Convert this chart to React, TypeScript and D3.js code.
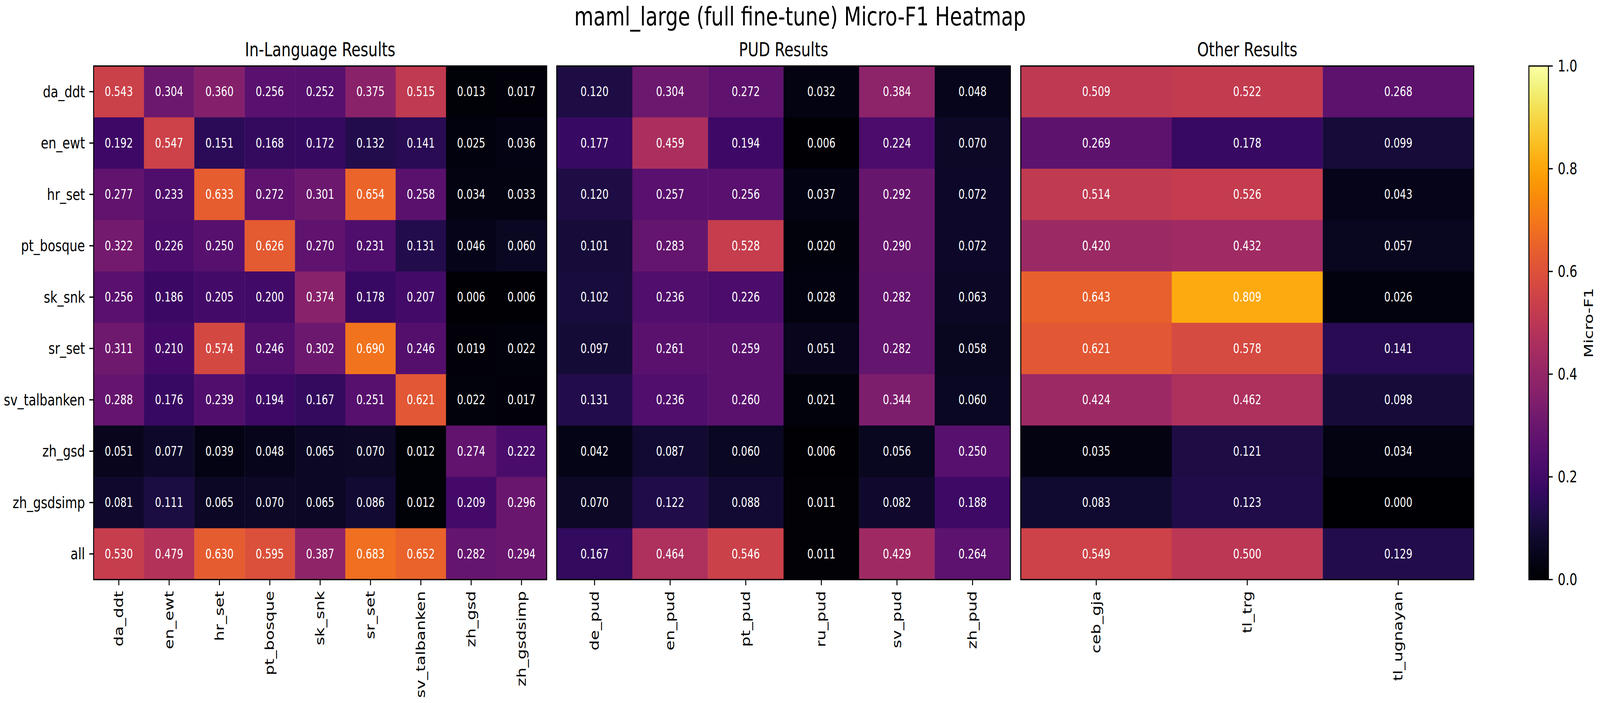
import * as d3 from 'd3';
import React from 'react';

// rows shared by all three panels
const rowLabels = [
  'da_ddt',
  'en_ewt',
  'hr_set',
  'pt_bosque',
  'sk_snk',
  'sr_set',
  'sv_talbanken',
  'zh_gsd',
  'zh_gsdsimp',
  'all'
];

const inLangCols = [
  'da_ddt',
  'en_ewt',
  'hr_set',
  'pt_bosque',
  'sk_snk',
  'sr_set',
  'sv_talbanken',
  'zh_gsd',
  'zh_gsdsimp'
];
const inLangValues = [
  [0.543, 0.304, 0.36, 0.256, 0.252, 0.375, 0.515, 0.013, 0.017],
  [0.192, 0.547, 0.151, 0.168, 0.172, 0.132, 0.141, 0.025, 0.036],
  [0.277, 0.233, 0.633, 0.272, 0.301, 0.654, 0.258, 0.034, 0.033],
  [0.322, 0.226, 0.25, 0.626, 0.27, 0.231, 0.131, 0.046, 0.06],
  [0.256, 0.186, 0.205, 0.2, 0.374, 0.178, 0.207, 0.006, 0.006],
  [0.311, 0.21, 0.574, 0.246, 0.302, 0.69, 0.246, 0.019, 0.022],
  [0.288, 0.176, 0.239, 0.194, 0.167, 0.251, 0.621, 0.022, 0.017],
  [0.051, 0.077, 0.039, 0.048, 0.065, 0.07, 0.012, 0.274, 0.222],
  [0.081, 0.111, 0.065, 0.07, 0.065, 0.086, 0.012, 0.209, 0.296],
  [0.53, 0.479, 0.63, 0.595, 0.387, 0.683, 0.652, 0.282, 0.294]
];

const pudCols = ['de_pud', 'en_pud', 'pt_pud', 'ru_pud', 'sv_pud', 'zh_pud'];
const pudValues = [
  [0.12, 0.304, 0.272, 0.032, 0.384, 0.048],
  [0.177, 0.459, 0.194, 0.006, 0.224, 0.07],
  [0.12, 0.257, 0.256, 0.037, 0.292, 0.072],
  [0.101, 0.283, 0.528, 0.02, 0.29, 0.072],
  [0.102, 0.236, 0.226, 0.028, 0.282, 0.063],
  [0.097, 0.261, 0.259, 0.051, 0.282, 0.058],
  [0.131, 0.236, 0.26, 0.021, 0.344, 0.06],
  [0.042, 0.087, 0.06, 0.006, 0.056, 0.25],
  [0.07, 0.122, 0.088, 0.011, 0.082, 0.188],
  [0.167, 0.464, 0.546, 0.011, 0.429, 0.264]
];

const otherCols = ['ceb_gja', 'tl_trg', 'tl_ugnayan'];
const otherValues = [
  [0.509, 0.522, 0.268],
  [0.269, 0.178, 0.099],
  [0.514, 0.526, 0.043],
  [0.42, 0.432, 0.057],
  [0.643, 0.809, 0.026],
  [0.621, 0.578, 0.141],
  [0.424, 0.462, 0.098],
  [0.035, 0.121, 0.034],
  [0.083, 0.123, 0.0],
  [0.549, 0.5, 0.129]
];

const colorbarTicks = [0, 0.2, 0.4, 0.6, 0.8, 1.0];

// viewBox units match the 5400x1800 reference; the real window is narrower,
// so the svg is stretched to fill it
const W = 5400;
const H = 1800;
const FONT = 'DejaVu Sans';
const top = 169;
const bottom = 1484;
const tickLen = 14.6;
const lw = 3.3;

const panels = [
  { title: 'In-Language Results', cols: inLangCols, values: inLangValues, x0: 316, x1: 1845 },
  { title: 'PUD Results', cols: pudCols, values: pudValues, x0: 1879, x1: 3410 },
  { title: 'Other Results', cols: otherCols, values: otherValues, x0: 3445, x1: 4974 }
];

const color = d3.scaleSequential(d3.interpolateInferno).domain([0, 1]);
const yScale = d3.scaleBand<string>().domain(rowLabels).range([top, bottom]);

const Panel: React.FC<{ p: (typeof panels)[number]; showY: boolean }> = ({ p, showY }) => {
  const x = d3.scaleBand<string>().domain(p.cols).range([p.x0, p.x1]);
  const cx = (p.x0 + p.x1) / 2;
  return (
    <g>
      {rowLabels.map((r, i) =>
        p.cols.map((c, j) => (
          <g key={`${r}-${c}`}>
            <rect
              x={x(c)}
              y={yScale(r)}
              width={x.bandwidth() + 0.5}
              height={yScale.bandwidth() + 0.5}
              fill={color(p.values[i][j])}
            />
            <text
              x={(x(c) as number) + x.bandwidth() / 2}
              y={(yScale(r) as number) + yScale.bandwidth() / 2}
              textAnchor="middle"
              dominantBaseline="central"
              fill="#fff"
              fontSize={33.3}
            >
              {p.values[i][j].toFixed(3)}
            </text>
          </g>
        ))
      )}
      <rect x={p.x0} y={top} width={p.x1 - p.x0} height={bottom - top} fill="none" stroke="#000" strokeWidth={lw} />
      <text x={cx} y={144} textAnchor="middle" fontSize={50}>
        {p.title}
      </text>
      {p.cols.map((c) => {
        const tx = (x(c) as number) + x.bandwidth() / 2;
        return (
          <g key={c}>
            <line x1={tx} x2={tx} y1={bottom} y2={bottom + tickLen} stroke="#000" strokeWidth={lw} />
            <text
              transform={`translate(${tx},${bottom + 2 * tickLen}) rotate(-90)`}
              textAnchor="end"
              dominantBaseline="central"
              fontSize={41.7}
            >
              {c}
            </text>
          </g>
        );
      })}
      {showY &&
        rowLabels.map((r) => {
          const ty = (yScale(r) as number) + yScale.bandwidth() / 2;
          return (
            <g key={r}>
              <line x1={p.x0 - tickLen} x2={p.x0} y1={ty} y2={ty} stroke="#000" strokeWidth={lw} />
              <text x={p.x0 - 2 * tickLen} y={ty} textAnchor="end" dominantBaseline="central" fontSize={41.7}>
                {r}
              </text>
            </g>
          );
        })}
    </g>
  );
};

const Colorbar: React.FC = () => {
  const cbX0 = 5160;
  const cbX1 = 5226;
  const cbScale = d3.scaleLinear().domain([0, 1]).range([bottom, top]);
  const stops = d3.range(0, 1.0001, 0.02);
  return (
    <g>
      <defs>
        <linearGradient id="infernoGrad" x1="0" y1="1" x2="0" y2="0">
          {stops.map((s) => (
            <stop key={s} offset={s} stopColor={color(s)} />
          ))}
        </linearGradient>
      </defs>
      <rect x={cbX0} y={top} width={cbX1 - cbX0} height={bottom - top} fill="url(#infernoGrad)" stroke="#000" strokeWidth={lw} />
      {colorbarTicks.map((t) => (
        <g key={t}>
          <line x1={cbX1} x2={cbX1 + tickLen} y1={cbScale(t)} y2={cbScale(t)} stroke="#000" strokeWidth={lw} />
          <text x={cbX1 + 2 * tickLen + 2} y={cbScale(t)} dominantBaseline="central" fontSize={41.7}>
            {t.toFixed(1)}
          </text>
        </g>
      ))}
      <text
        transform={`translate(5376,${(top + bottom) / 2}) rotate(-90)`}
        textAnchor="middle"
        fontSize={41.7}
      >
        Micro-F1
      </text>
    </g>
  );
};

export default function App() {
  return (
    <svg
      viewBox={`0 0 ${W} ${H}`}
      preserveAspectRatio="none"
      style={{ position: 'fixed', left: 0, top: 0, width: '100vw', height: '100vh', background: '#fff' }}
      fontFamily={FONT}
    >
      <rect width={W} height={H} fill="#fff" />
      <text x={W / 2} y={65} textAnchor="middle" fontSize={66.7}>
        maml_large (full fine-tune) Micro-F1 Heatmap
      </text>
      {panels.map((p, i) => (
        <Panel key={p.title} p={p} showY={i === 0} />
      ))}
      <Colorbar />
    </svg>
  );
}
